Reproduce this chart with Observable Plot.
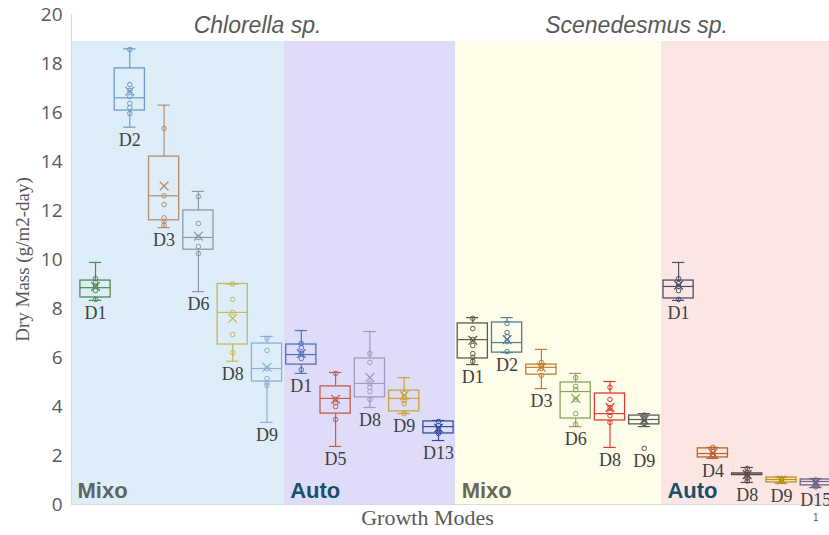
<!DOCTYPE html>
<html><head><meta charset="utf-8">
<script src="https://cdn.jsdelivr.net/npm/d3@7"></script>
<script src="https://cdn.jsdelivr.net/npm/@observablehq/plot@0.6"></script>
<style>html,body{margin:0;padding:0;background:#fff;overflow:hidden}</style>
</head><body><div id="chart"></div>
<script>
// ---- data ----
const labels = ["D1","D2","D3","D6","D8","D9","D1","D5","D8","D9","D13","D1","D2","D3","D6","D8","D9","D1","D4","D8","D9","D15"];
const q1      = [8.45,16.08,11.6,10.4,6.53,5.02, 5.71,3.71,4.37,3.8,2.9, 5.96,6.2,5.3,3.51,3.43,3.27, 8.41,1.92,1.2,0.9,0.78];
const medians = [8.85,16.6,12.6,10.9,7.84,5.55, 6.12,4.33,4.94,4.33,3.18, 6.73,6.61,5.6,4.61,3.71,3.47, 8.9,2.08,1.24,1.02,0.94];
const q3      = [9.14,17.8,14.2,12.0,9.0,6.57, 6.53,4.82,5.96,4.65,3.39, 7.39,7.43,5.71,4.98,4.53,3.63, 9.14,2.29,1.27,1.1,1.02];
const whiskerLow  = [8.33,15.4,11.3,8.69,5.85,3.35, 5.35,2.37,3.96,3.71,2.61, 5.71,6.2,4.73,3.18,2.33,3.18, 8.33,1.88,0.9,0.86,0.69];
const whiskerHigh = [9.88,18.6,16.3,12.78,9.0,6.86, 7.1,5.39,7.06,5.18,3.43, 7.63,7.63,6.33,5.35,5.02,3.71, 9.88,2.33,1.51,1.12,1.06];
const means = [8.9,16.87,13.0,10.95,7.6,5.6, 6.16,4.3,5.18,4.45,3.12, 6.7,6.73,5.6,4.33,3.96,3.45, 8.95,2.1,1.22,1.0,0.88];
const points = [
  [9.22,9.06,8.92,8.73,8.37],
  [18.57,17.14,16.9,16.65,16.37,16.2,15.96],
  [15.35,12.6,12.24,11.7,11.55,11.4],
  [12.57,11.47,10.9,10.53,10.24],
  [9.0,8.37,7.84,6.94,6.2],
  [6.78,6.29,5.55,5.14,4.98,4.86],
  [6.57,6.4,6.16,5.96,5.5],
  [5.35,4.29,4.16,4.0,3.47],
  [6.16,5.8,4.94,4.78,4.61,4.29],
  [4.53,4.37,4.24,4.12,3.71],
  [3.39,3.22,3.1,2.98,2.9],
  [7.6,7.18,6.73,6.49,6.16,6.0,5.84],
  [7.39,7.02,6.86,6.65,6.24],
  [5.8,5.67,5.55,5.27],
  [5.18,4.82,4.69,4.29,3.71,3.27],
  [4.78,4.29,3.96,3.76,3.63,3.35],
  [3.65,3.5,3.4,3.3,2.29],
  [9.22,9.02,8.9,8.73,8.37],
  [2.33,2.16,2.04,1.96],
  [1.47,1.3,1.2,1.08,0.96],
  [1.06,1.0,0.94],
  [1.0,0.9,0.8,0.72]
];
const regionNames = ["Mixo","Auto","Mixo","Auto"];
const regionFirst = [0,6,11,17];
const regionLast  = [5,10,16,21];
const speciesNames = ["Chlorella sp.","Scenedesmus sp."];
const speciesFirst = [0,11];
const speciesLast  = [10,21];
const yTicks = [0,2,4,6,8,10,12,14,16,18,20];

// ---- styles ----
const boxColors = ["#4e8a52","#6b9cc4","#b58c6e","#8d9aa6","#c8b55e","#8eaed4",
  "#4f72bd","#c0604a","#9d99c4","#c9a33a","#34509c",
  "#5f5c4a","#4f7d96","#c27c33","#8ba35a","#e23b32","#5a5a5a",
  "#4b5169","#b5642f","#5b4a4a","#b8950f","#6c628e"];
const regionFills = ["#deeef9","#dfdcf9","#fefde9","#fce6e3"];
const regionTextColors = ["#636363","#17506a","#6b6956","#17506a"];
const xMin = -0.7, xMax = 21.4, regionTop = 18.9, half = 0.44, cap = 0.18;

const boxes = labels.map((label, i) => ({
  i, label, q1: q1[i], med: medians[i], q3: q3[i], lo: whiskerLow[i], hi: whiskerHigh[i],
  mean: means[i], color: boxColors[i], bottom: Math.min(whiskerLow[i], ...points[i])
}));
const pts = boxes.flatMap(b => points[b.i].map(v => ({i: b.i, v, color: b.color})));
const regions = regionNames.map((name, k) => ({
  name, k,
  x1: k === 0 ? xMin : regionFirst[k] - 0.5,
  x2: k === regionNames.length - 1 ? xMax : regionLast[k] + 0.5
}));
const species = speciesNames.map((name, k) => ({
  name, x: ((k === 0 ? xMin : speciesFirst[k] - 0.5) + (k === speciesNames.length - 1 ? xMax : speciesLast[k] + 0.5)) / 2
}));

const serif = "'Liberation Serif', serif";
const sans = "'Liberation Sans', Arial, sans-serif";

const chart = Plot.plot({
  width: 829, height: 535,
  marginLeft: 71, marginRight: 0, marginTop: 14, marginBottom: 31,
  style: {fontFamily: "'Open Sans', sans-serif", color: "#595959", background: "#fff", overflow: "hidden"},
  x: {domain: [xMin, xMax], axis: null},
  y: {domain: [0, 20], axis: null},
  marks: [
    Plot.rect(regions, {x1: "x1", x2: "x2", y1: 0, y2: regionTop, fill: d => regionFills[d.k]}),
    Plot.ruleY([0], {stroke: "#d9d9d9", strokeWidth: 1.2}),
    Plot.ruleX([xMin], {y1: 0, y2: 20, stroke: "#dcdcdc", strokeWidth: 1.2}),
    Plot.axisY({ticks: yTicks, tickSize: 0, tickPadding: 9, fontSize: 19, label: null}),
    Plot.text(["Dry Mass (g/m2-day)"], {frameAnchor: "left", textAnchor: "middle", dx: -49, rotate: -90, fontFamily: serif, fontSize: 19, fill: "#595959"}),
    Plot.text(["Growth Modes"], {frameAnchor: "bottom", dx: -23, dy: 20, fontFamily: serif, fontSize: 22, fill: "#595959"}),
    Plot.text(["1"], {frameAnchor: "bottom-right", dx: -11, dy: 16, fontFamily: sans, fontSize: 10, fill: "#595959"}),
    // whiskers
    Plot.ruleX(boxes, {x: "i", y1: "lo", y2: "q1", stroke: d => d.color, strokeWidth: 1.2}),
    Plot.ruleX(boxes, {x: "i", y1: "q3", y2: "hi", stroke: d => d.color, strokeWidth: 1.2}),
    Plot.ruleY(boxes, {y: "lo", x1: d => d.i - cap, x2: d => d.i + cap, stroke: d => d.color, strokeWidth: 1.2}),
    Plot.ruleY(boxes, {y: "hi", x1: d => d.i - cap, x2: d => d.i + cap, stroke: d => d.color, strokeWidth: 1.2}),
    // boxes
    Plot.rect(boxes, {x1: d => d.i - half, x2: d => d.i + half, y1: "q1", y2: "q3", fill: "none", stroke: d => d.color, strokeWidth: 1.3}),
    Plot.ruleY(boxes, {y: "med", x1: d => d.i - half, x2: d => d.i + half, stroke: d => d.color, strokeWidth: 1.2}),
    Plot.dot(pts, {x: "i", y: "v", r: 2.3, stroke: d => d.color, fill: "none", strokeWidth: 1}),
    Plot.dot(boxes, {x: "i", y: "mean", symbol: "times", r: 4, stroke: d => d.color, strokeWidth: 1.3}),
    // category labels
    Plot.text(boxes, {x: "i", y: "bottom", dy: 13, text: "label", fontFamily: serif, fontSize: 18, fill: "#404040"}),
    // growth mode labels
    Plot.text(regions, {x: "x1", y: 0, dx: 6, dy: -7, text: "name", textAnchor: "start", lineAnchor: "bottom",
      fontFamily: sans, fontWeight: "bold", fontSize: 22, fill: d => regionTextColors[d.k]}),
    // species titles
    Plot.text(species, {x: "x", y: 20, dx: -6, dy: 2, text: "name", lineAnchor: "top", fontFamily: sans,
      fontStyle: "italic", fontSize: 23, fill: "#595959"})
  ]
});
document.getElementById("chart").append(chart);
</script>
</body></html>
